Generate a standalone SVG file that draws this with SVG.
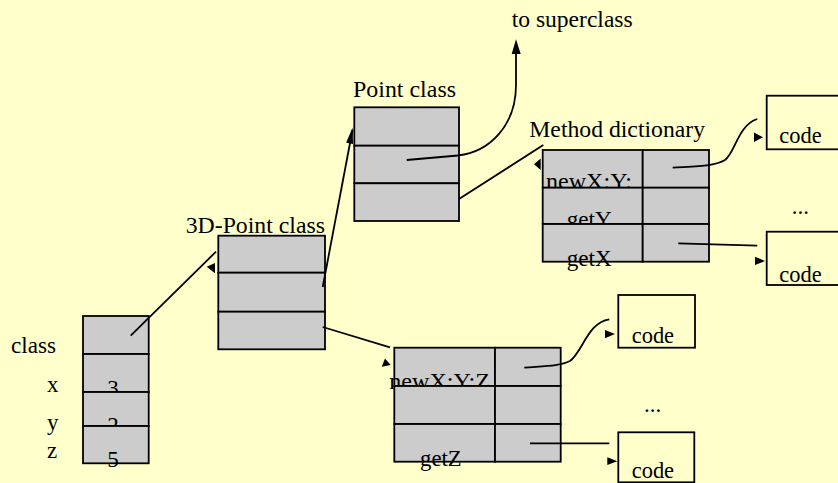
<svg xmlns="http://www.w3.org/2000/svg" width="838" height="483" viewBox="0 0 838 483">
<style>
.bg{fill:#FFFFCC}
.cell{fill:#CCCCCC;stroke:#000;stroke-width:1.8}
.box{fill:#FFFFCC;stroke:#000;stroke-width:1.8}
.t{font-family:"Liberation Serif","Times New Roman",serif;font-size:23px;fill:#000}
.ln{fill:none;stroke:#000;stroke-width:1.8}
.ah{fill:#000}
</style>
<rect class="bg" x="0" y="0" width="838" height="483"/>

<g id="labels">
<text class="t" x="511.7" y="26.7" textLength="121" lengthAdjust="spacingAndGlyphs">to superclass</text>
</g>

<g id="object">
<text class="t" x="11" y="353.3" textLength="45" lengthAdjust="spacingAndGlyphs">class</text>
<text class="t" x="47" y="392.3">x</text>
<text class="t" x="47" y="430">y</text>
<text class="t" x="47" y="458.3">z</text>
<rect class="cell" x="83" y="316" width="65.7" height="38"/>
<rect class="cell" x="83" y="354" width="65.7" height="38"/>
<text class="t" x="107.3" y="396">3</text>
<rect class="cell" x="83" y="392" width="65.7" height="34"/>
<text class="t" x="107.3" y="433">2</text>
<rect class="cell" x="83" y="426" width="65.7" height="37.3"/>
<text class="t" x="107.3" y="467">5</text>
</g>

<g id="point3d-class">
<text class="t" x="185.7" y="233" textLength="139.3" lengthAdjust="spacingAndGlyphs">3D-Point class</text>
<rect class="cell" x="218.3" y="235.7" width="106.7" height="37"/>
<rect class="cell" x="218.3" y="272.7" width="106.7" height="39"/>
<rect class="cell" x="218.3" y="311.7" width="106.7" height="37.6"/>
</g>

<g id="point-class">
<text class="t" x="353" y="96.7" textLength="103" lengthAdjust="spacingAndGlyphs">Point class</text>
<rect class="cell" x="354.3" y="107.3" width="104.7" height="38.4"/>
<rect class="cell" x="354.3" y="145.7" width="104.7" height="37.6"/>
<rect class="cell" x="354.3" y="183.3" width="104.7" height="37.7"/>
</g>

<g id="method-dictionary">
<text class="t" x="529.3" y="136.7" textLength="175.7" lengthAdjust="spacingAndGlyphs">Method dictionary</text>
<rect class="cell" x="542.7" y="150" width="100" height="37.7"/>
<rect class="cell" x="642.7" y="150" width="66.3" height="37.7"/>
<text class="t" x="546" y="189" textLength="86" lengthAdjust="spacingAndGlyphs">newX:Y:</text>
<rect class="cell" x="542.7" y="187.7" width="100" height="36.3"/>
<rect class="cell" x="642.7" y="187.7" width="66.3" height="36.3"/>
<text class="t" x="566.7" y="227" textLength="45" lengthAdjust="spacingAndGlyphs">getY</text>
<rect class="cell" x="542.7" y="224" width="100" height="37.7"/>
<rect class="cell" x="642.7" y="224" width="66.3" height="37.7"/>
<text class="t" x="566.7" y="265.7" textLength="45" lengthAdjust="spacingAndGlyphs">getX</text>
</g>

<g id="point3d-dictionary">
<rect class="cell" x="394.3" y="347.7" width="100.7" height="38.3"/>
<text class="t" x="389.3" y="389" textLength="100.7" lengthAdjust="spacingAndGlyphs">newX:Y:Z</text>
<rect class="cell" x="495" y="347.7" width="65.7" height="38.3"/>
<rect class="cell" x="394.3" y="386" width="100.7" height="38"/>
<rect class="cell" x="495" y="386" width="65.7" height="38"/>
<rect class="cell" x="394.3" y="424" width="100.7" height="37.7"/>
<rect class="cell" x="495" y="424" width="65.7" height="37.7"/>
<text class="t" x="420" y="465.5" textLength="41.7" lengthAdjust="spacingAndGlyphs">getZ</text>
</g>

<g id="code-1">
<rect class="box" x="766.7" y="95.7" width="90" height="53.6"/>
<text class="t" x="779.3" y="143.3" textLength="42.4" lengthAdjust="spacingAndGlyphs">code</text>
</g>
<g id="code-2">
<rect class="box" x="766.7" y="231.7" width="90" height="53.3"/>
<text class="t" x="779.3" y="281.7" textLength="42.4" lengthAdjust="spacingAndGlyphs">code</text>
</g>
<g id="code-3">
<rect class="box" x="618.3" y="295" width="76.7" height="52.7"/>
<text class="t" x="631.7" y="343.3" textLength="42.4" lengthAdjust="spacingAndGlyphs">code</text>
</g>
<g id="code-4">
<rect class="box" x="618.3" y="432.3" width="76" height="50"/>
<text class="t" x="631.7" y="478" textLength="42.4" lengthAdjust="spacingAndGlyphs">code</text>
</g>

<g id="ellipses">
<text class="t" x="791.7" y="214">...</text>
<text class="t" x="644" y="412">...</text>
</g>

<g id="connectors">
<line class="ln" x1="130.7" y1="335.7" x2="216" y2="251.7"/>
<polygon class="ah" points="206.7,266.7 215,263 215,273.3"/>

<line class="ln" x1="322.7" y1="287" x2="352.5" y2="130"/>
<polygon class="ah" points="352.6,127.5 346.1,142.8 353,144"/>

<path class="ln" d="M406.7,160 L458,155.5 C490,152 516,125 516,85 L516,52"/>
<polygon class="ah" points="516,39.3 511.7,54 520.7,54"/>

<line class="ln" x1="459" y1="199" x2="543.3" y2="145"/>
<polygon class="ah" points="534,164.3 540.7,158.5 540.7,170"/>

<line class="ln" x1="322.7" y1="327" x2="390" y2="347.3"/>
<polygon class="ah" points="381.7,366.7 385,358.5 390.7,365"/>

<path class="ln" d="M672.7,167.7 C700,166 715,166 725,160 C735,153 738,125 757.3,119"/>
<polygon class="ah" points="754,132.5 763,137.3 754,142"/>

<line class="ln" x1="678.3" y1="243.3" x2="757.3" y2="245.7"/>
<polygon class="ah" points="755,256.7 765,261 755,265"/>

<path class="ln" d="M524.3,367.7 C545,366 560,366 570,361 C582,353 588,322 609.3,319.3"/>
<polygon class="ah" points="605,330 615,334 605,338.3"/>

<line class="ln" x1="530" y1="443.3" x2="609.3" y2="443.3"/>
<polygon class="ah" points="607.3,457.3 617.3,461.3 607.3,465"/>
</g>
</svg>
